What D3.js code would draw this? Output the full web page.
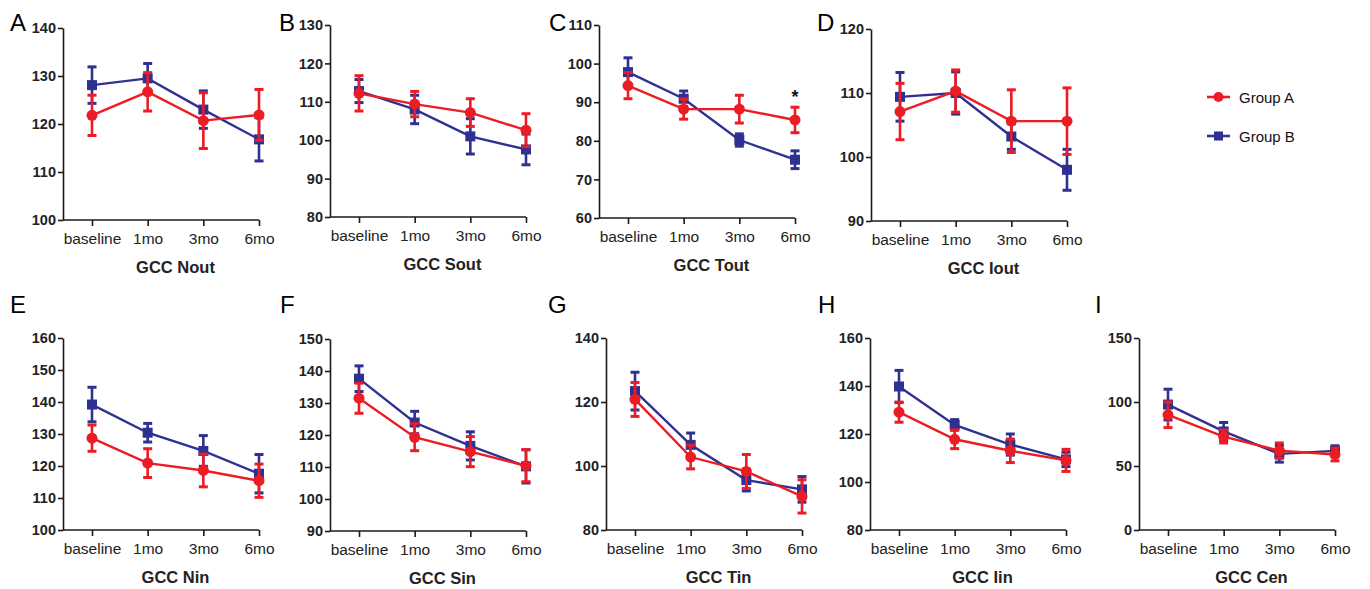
<!DOCTYPE html>
<html>
<head>
<meta charset="utf-8">
<script src="https://cdn.jsdelivr.net/npm/d3@7"></script>
<style>
  body { margin: 0; background: #fff; }
  svg { display: block; }
  text { font-family: "Liberation Sans", Arial, sans-serif; }
</style>
</head>
<body>
<svg id="chart" width="1370" height="589"></svg>
<script>
// Data ---------------------------------------------------------------------------

const categories = ["baseline", "1mo", "3mo", "6mo"];
const groups = ["Group A", "Group B"];

// means and error (SEM) per panel
const noutA = [121.8, 126.7, 120.7, 121.9];
const noutAErr = [4.2, 4.0, 5.8, 5.3];
const noutB = [128.1, 129.5, 123.0, 116.8];
const noutBErr = [3.8, 3.1, 3.9, 4.5];

const soutA = [112.2, 109.4, 107.2, 102.6];
const soutAErr = [4.6, 3.3, 3.6, 4.3];
const soutB = [112.8, 108.0, 101.0, 97.6];
const soutBErr = [3.0, 3.7, 4.6, 4.0];

const toutA = [94.3, 88.2, 88.2, 85.4];
const toutAErr = [3.4, 2.6, 3.6, 3.3];
const toutB = [97.8, 90.9, 80.2, 75.1];
const toutBErr = [3.7, 2.0, 1.6, 2.3];

const ioutA = [107.1, 110.3, 105.6, 105.6];
const ioutAErr = [4.4, 3.3, 4.9, 5.2];
const ioutB = [109.4, 110.0, 103.2, 98.0];
const ioutBErr = [3.8, 3.3, 2.0, 3.2];

const ninA = [128.7, 120.9, 118.6, 115.4];
const ninAErr = [4.1, 4.5, 5.1, 5.2];
const ninB = [139.2, 130.4, 124.7, 117.6];
const ninBErr = [5.4, 2.9, 4.8, 6.0];

const sinA = [131.5, 119.3, 114.8, 110.4];
const sinAErr = [4.7, 4.2, 4.7, 5.0];
const sinB = [137.6, 123.9, 116.6, 110.2];
const sinBErr = [4.0, 3.5, 4.4, 5.2];

const tinA = [120.8, 102.8, 98.3, 90.5];
const tinAErr = [5.3, 3.7, 5.3, 5.2];
const tinB = [123.4, 106.6, 95.6, 92.7];
const tinBErr = [5.9, 3.7, 3.4, 4.0];

const iinA = [129.1, 117.8, 113.0, 109.0];
const iinAErr = [4.2, 3.9, 4.9, 4.6];
const iinB = [139.8, 123.8, 115.6, 109.4];
const iinBErr = [6.7, 2.2, 4.4, 3.0];

const cenA = [90.0, 73.0, 62.0, 59.0];
const cenAErr = [10.0, 5.0, 6.0, 5.0];
const cenB = [98.0, 77.0, 59.5, 61.8];
const cenBErr = [12.0, 7.0, 6.5, 4.0];

const noutTicks = [100, 110, 120, 130, 140];
const soutTicks = [80, 90, 100, 110, 120, 130];
const toutTicks = [60, 70, 80, 90, 100, 110];
const ioutTicks = [90, 100, 110, 120];
const ninTicks = [100, 110, 120, 130, 140, 150, 160];
const sinTicks = [90, 100, 110, 120, 130, 140, 150];
const tinTicks = [80, 100, 120, 140];
const iinTicks = [80, 100, 120, 140, 160];
const cenTicks = [0, 50, 100, 150];

// Layout -------------------------------------------------------------------------

const panels = [
    { letter: "A", title: "GCC Nout", a: noutA, aErr: noutAErr, b: noutB, bErr: noutBErr, ticks: noutTicks, left: 63, top: 28, bottom: 220, lx: 10, ly: 31 },
    { letter: "B", title: "GCC Sout", a: soutA, aErr: soutAErr, b: soutB, bErr: soutBErr, ticks: soutTicks, left: 330, top: 25, bottom: 217, lx: 279, ly: 31 },
    { letter: "C", title: "GCC Tout", a: toutA, aErr: toutAErr, b: toutB, bErr: toutBErr, ticks: toutTicks, left: 599, top: 25, bottom: 218, lx: 549, ly: 31, star: 3 },
    { letter: "D", title: "GCC Iout", a: ioutA, aErr: ioutAErr, b: ioutB, bErr: ioutBErr, ticks: ioutTicks, left: 871, top: 29, bottom: 221, lx: 817, ly: 31 },
    { letter: "E", title: "GCC Nin", a: ninA, aErr: ninAErr, b: ninB, bErr: ninBErr, ticks: ninTicks, left: 63, top: 338, bottom: 530, lx: 10, ly: 313 },
    { letter: "F", title: "GCC Sin", a: sinA, aErr: sinAErr, b: sinB, bErr: sinBErr, ticks: sinTicks, left: 330, top: 339, bottom: 531, lx: 280, ly: 313 },
    { letter: "G", title: "GCC Tin", a: tinA, aErr: tinAErr, b: tinB, bErr: tinBErr, ticks: tinTicks, left: 606, top: 338, bottom: 530, lx: 548, ly: 313 },
    { letter: "H", title: "GCC Iin", a: iinA, aErr: iinAErr, b: iinB, bErr: iinBErr, ticks: iinTicks, left: 870, top: 338, bottom: 530, lx: 818, ly: 313 },
    { letter: "I", title: "GCC Cen", a: cenA, aErr: cenAErr, b: cenB, bErr: cenBErr, ticks: cenTicks, left: 1139, top: 338, bottom: 530, lx: 1095, ly: 313 }
];

const red = "#ec1c24";
const blue = "#2e3192";
const axisColor = "#1a1a1a";

const svg = d3.select("#chart");

// Draw panels --------------------------------------------------------------------

panels.forEach(function (p) {
    const g = svg.append("g");

    const x = d3.scalePoint()
        .domain(categories)
        .range([p.left + 29, p.left + 196]);

    const y = d3.scaleLinear()
        .domain([p.ticks[0], p.ticks[p.ticks.length - 1]])
        .range([p.bottom, p.top]);

    // y axis
    const yAxis = g.append("g")
        .attr("transform", "translate(" + p.left + ",0)")
        .call(d3.axisLeft(y).tickValues(p.ticks).tickSize(5).tickPadding(2).tickSizeOuter(0));
    yAxis.select(".domain").attr("stroke", axisColor).attr("stroke-width", 1.6);
    yAxis.selectAll(".tick line").attr("stroke", axisColor).attr("stroke-width", 1.6);
    yAxis.selectAll(".tick text")
        .attr("fill", "#222")
        .style("font-size", "14.5px")
        .style("font-weight", "bold");

    // x axis
    const xAxis = g.append("g")
        .attr("transform", "translate(0," + p.bottom + ")")
        .call(d3.axisBottom(x).tickSize(6).tickPadding(7));
    xAxis.select(".domain").remove();
    xAxis.append("line")
        .attr("x1", p.left).attr("x2", x(categories[categories.length - 1]))
        .attr("stroke", axisColor).attr("stroke-width", 1.6);
    xAxis.selectAll(".tick line").attr("stroke", axisColor).attr("stroke-width", 1.6);
    xAxis.selectAll(".tick text")
        .attr("fill", "#222")
        .style("font-size", "15.5px");

    // axis title
    g.append("text")
        .attr("x", (x(categories[0]) + x(categories[3])) / 2)
        .attr("y", p.bottom + 53)
        .attr("text-anchor", "middle")
        .attr("fill", "#222")
        .style("font-size", "16.5px")
        .style("font-weight", "bold")
        .text(p.title);

    // panel letter
    g.append("text")
        .attr("x", p.lx)
        .attr("y", p.ly)
        .attr("fill", "#000")
        .style("font-size", "24px")
        .style("font-family", "'Liberation Sans Narrow', 'Liberation Sans', Arial, sans-serif")
        .text(p.letter);

    // series: blue first, red on top
    const series = [
        { vals: p.b, err: p.bErr, color: blue, shape: "square" },
        { vals: p.a, err: p.aErr, color: red, shape: "circle" }
    ];

    series.forEach(function (s) {
        const pts = categories.map(function (c, i) {
            return { cat: c, v: s.vals[i], e: s.err[i] };
        });

        const line = d3.line()
            .x(function (d) { return x(d.cat); })
            .y(function (d) { return y(d.v); });

        g.append("path")
            .datum(pts)
            .attr("d", line)
            .attr("fill", "none")
            .attr("stroke", s.color)
            .attr("stroke-width", 2.4);

        const eb = g.append("g").selectAll("g")
            .data(pts)
            .enter()
            .append("g");

        eb.append("line")
            .attr("x1", function (d) { return x(d.cat); })
            .attr("x2", function (d) { return x(d.cat); })
            .attr("y1", function (d) { return y(d.v - d.e); })
            .attr("y2", function (d) { return y(d.v + d.e); })
            .attr("stroke", s.color)
            .attr("stroke-width", 2.6);

        [-1, 1].forEach(function (sign) {
            eb.append("line")
                .attr("x1", function (d) { return x(d.cat) - 4.5; })
                .attr("x2", function (d) { return x(d.cat) + 4.5; })
                .attr("y1", function (d) { return y(d.v + sign * d.e); })
                .attr("y2", function (d) { return y(d.v + sign * d.e); })
                .attr("stroke", s.color)
                .attr("stroke-width", 3);
        });

        if (s.shape === "circle") {
            eb.append("circle")
                .attr("cx", function (d) { return x(d.cat); })
                .attr("cy", function (d) { return y(d.v); })
                .attr("r", 5.5)
                .attr("fill", s.color);
        } else {
            eb.append("rect")
                .attr("x", function (d) { return x(d.cat) - 5; })
                .attr("y", function (d) { return y(d.v) - 5; })
                .attr("width", 10)
                .attr("height", 10)
                .attr("fill", s.color);
        }
    });

    // significance star
    if (p.star !== undefined) {
        const c = categories[p.star];
        g.append("text")
            .attr("x", x(c))
            .attr("y", y(p.a[p.star] + p.aErr[p.star]) - 4)
            .attr("text-anchor", "middle")
            .attr("fill", "#111")
            .style("font-size", "18px")
            .style("font-weight", "bold")
            .text("*");
    }
});

// Legend -------------------------------------------------------------------------

const legend = svg.append("g").attr("transform", "translate(1207,0)");
const legendY = d3.scalePoint().domain(groups).range([97, 136]);
const legendColor = d3.scaleOrdinal().domain(groups).range([red, blue]);

groups.forEach(function (name, i) {
    const ly = legendY(name);
    legend.append("line")
        .attr("x1", 0).attr("x2", 23)
        .attr("y1", ly).attr("y2", ly)
        .attr("stroke", legendColor(name))
        .attr("stroke-width", 2.6);
    if (i === 0) {
        legend.append("circle").attr("cx", 11.5).attr("cy", ly).attr("r", 5).attr("fill", legendColor(name));
    } else {
        legend.append("rect").attr("x", 7).attr("y", ly - 4.5).attr("width", 9).attr("height", 9).attr("fill", legendColor(name));
    }
    legend.append("text")
        .attr("x", 32)
        .attr("y", ly + 5.5)
        .attr("fill", "#111")
        .style("font-size", "15px")
        .text(name);
});
</script>
</body>
</html>
